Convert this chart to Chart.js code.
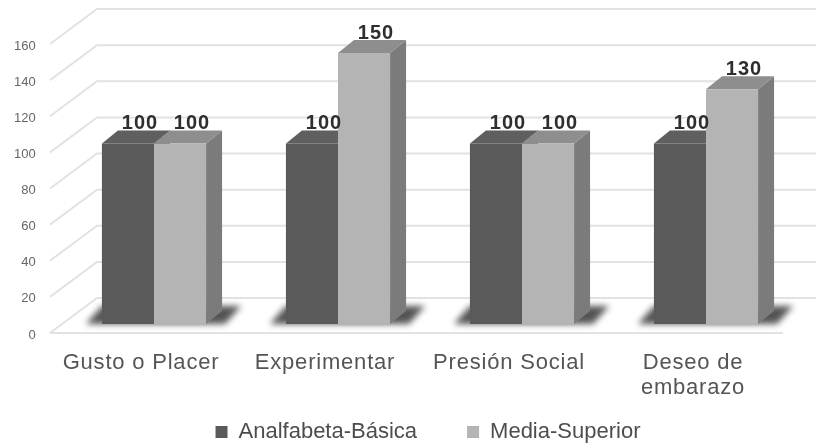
<!DOCTYPE html>
<html><head><meta charset="utf-8">
<script src="https://cdn.jsdelivr.net/npm/chart.js@4.4.1/dist/chart.umd.min.js"></script>
<style>html,body{margin:0;padding:0;background:#fff;}#wrap{width:816px;height:447px;}</style>
</head><body><div id="wrap"><canvas id="c" width="816" height="447"></canvas></div>
<script>
const categories = ['Gusto o Placer', 'Experimentar', 'Presión Social', ['Deseo de', 'embarazo']];
const seriesNames = ['Analfabeta-Básica', 'Media-Superior'];
const analfabetaBasica = [100, 100, 100, 100];
const mediaSuperior = [100, 150, 100, 130];
const yMin = 0, yMax = 160, yStep = 20;

const FONT = "'Liberation Sans', Arial, sans-serif";
const frontColors = ['#5a5a5a', '#b4b4b4'];
const topColors = ['#5f5f5f', '#8e8e8e'];
const sideColors = ['#474747', '#7b7b7b'];
const DX = 16, DY = 13;

function poly(ctx, pts) {
  ctx.beginPath();
  ctx.moveTo(pts[0][0], pts[0][1]);
  for (let i = 1; i < pts.length; i++) ctx.lineTo(pts[i][0], pts[i][1]);
  ctx.closePath();
  ctx.fill();
}

// wider tracking for the category labels only
const xSpacing = {
  id: 'xSpacing',
  afterLayout(chart) {
    const s = chart.scales.x;
    if (s && !s._spaced) {
      const orig = s.drawLabels;
      s.drawLabels = function (area) {
        const c = this.ctx;
        c.save();
        c.letterSpacing = '0.8px';
        orig.call(this, area);
        c.restore();
      };
      s._spaced = true;
    }
  }
};

const threeD = {
  id: 'threeD',
  beforeDatasetsDraw(chart) {
    const ctx = chart.ctx;
    const y = chart.scales.y;
    const area = chart.chartArea;
    ctx.save();
    ctx.strokeStyle = '#e2e2e2';
    ctx.lineWidth = 2;
    y.ticks.forEach(t => {
      const fy = y.getPixelForValue(t.value);
      ctx.beginPath();
      ctx.moveTo(50, fy + 9);
      ctx.lineTo(97, fy - 26);
      ctx.lineTo(chart.width, fy - 26);
      ctx.stroke();
    });
    const f0 = y.getPixelForValue(0);
    ctx.beginPath();
    ctx.moveTo(50, f0 + 9);
    ctx.lineTo(area.right - 15, f0 + 9);
    ctx.stroke();

    const m0 = chart.getDatasetMeta(0), m1 = chart.getDatasetMeta(1);
    m0.data.forEach((b0, i) => {
      const b1 = m1.data[i];
      const l = b0.x - b0.width / 2, r = b1.x + b1.width / 2, bt = b0.base;
      ctx.save();
      ctx.filter = 'blur(3px)';
      ctx.fillStyle = '#545454';
      poly(ctx, [[l - 16, bt], [r + 19, bt], [r + 35, bt - 18], [l, bt - 18]]);
      ctx.restore();
    });
    [m0, m1].forEach((m, di) => m.data.forEach(b => {
      const l = b.x - b.width / 2, r = b.x + b.width / 2, t = b.y, bt = b.base;
      ctx.fillStyle = sideColors[di];
      poly(ctx, [[r, t], [r + DX, t - DY], [r + DX, bt - DY], [r, bt]]);
      ctx.fillStyle = topColors[di];
      poly(ctx, [[l, t], [r, t], [r + DX, t - DY], [l + DX, t - DY]]);
    }));
    ctx.restore();
  },
  afterDatasetsDraw(chart) {
    const ctx = chart.ctx;
    ctx.save();
    ctx.letterSpacing = '1px';
    ctx.font = 'bold 20px ' + FONT;
    ctx.fillStyle = '#2e2e2e';
    ctx.textAlign = 'center';
    ctx.textBaseline = 'alphabetic';
    chart.data.datasets.forEach((ds, di) => {
      chart.getDatasetMeta(di).data.forEach((b, i) => {
        ctx.fillText(String(ds.data[i]), b.x + 12, b.y - 14);
      });
    });
    ctx.restore();
  }
};

new Chart(document.getElementById('c'), {
  type: 'bar',
  data: {
    labels: categories,
    datasets: [
      { label: seriesNames[0], data: analfabetaBasica, backgroundColor: frontColors[0] },
      { label: seriesNames[1], data: mediaSuperior, backgroundColor: frontColors[1] }
    ]
  },
  options: {
    responsive: false,
    animation: false,
    devicePixelRatio: 1,
    layout: { padding: { left: 58, right: 18, top: 35, bottom: 0 } },
    datasets: { bar: { categoryPercentage: 0.566, barPercentage: 1.0 } },
    scales: {
      x: {
        grid: { display: false, drawTicks: false },
        border: { display: false },
        ticks: {
          mirror: true,
          font: { size: 22, family: FONT, lineHeight: 1.14 },
          color: '#555555',
          padding: -51,
          labelOffset: -13,
          maxRotation: 0,
          autoSkip: false
        },
        afterFit(s) { s.height = 47; }
      },
      y: {
        min: yMin, max: yMax,
        grid: { display: false, drawTicks: false },
        border: { display: false },
        ticks: {
          mirror: true,
          crossAlign: 'far',
          stepSize: yStep,
          font: { size: 13, family: FONT },
          color: '#666666',
          padding: -48,
          labelOffset: 11
        },
        afterFit(s) { s.width = 4; }
      }
    },
    plugins: {
      legend: {
        position: 'bottom',
        maxHeight: 76,
        labels: {
          font: { size: 22, family: FONT },
          color: '#4d4d4d',
          boxWidth: 12,
          boxHeight: 12,
          padding: 50
        }
      },
      tooltip: { enabled: false }
    }
  },
  plugins: [xSpacing, threeD]
});
</script>
</body></html>
